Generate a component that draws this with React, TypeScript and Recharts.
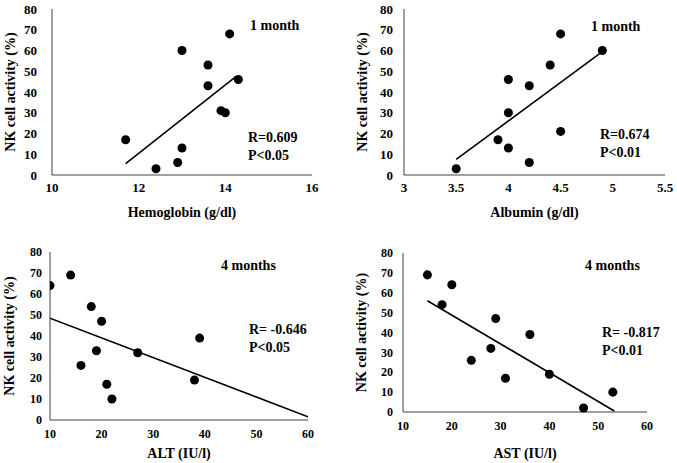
import { ScatterChart, Scatter, XAxis, YAxis } from 'recharts';

// NK cell activity (%) vs. lab values
const hbX = [11.7, 12.4, 12.9, 13.0, 13.0, 13.6, 13.6, 13.9, 14.0, 14.1, 14.3];
const hbY = [17, 3, 6, 13, 60, 53, 43, 31, 30, 68, 46];
const hbTrend = [
  { x: 11.7, y: 5.5 },
  { x: 14.25, y: 47.5 },
];

const albX = [3.5, 3.9, 4.0, 4.0, 4.0, 4.2, 4.2, 4.4, 4.5, 4.5, 4.9];
const albY = [3, 17, 13, 30, 46, 43, 6, 53, 68, 21, 60];
const albTrend = [
  { x: 3.5, y: 7.5 },
  { x: 4.9, y: 59.5 },
];

const altX = [10, 14, 18, 20, 19, 16, 21, 22, 27, 38, 39];
const altY = [64, 69, 54, 47, 33, 26, 17, 10, 32, 19, 39];
const altTrend = [
  { x: 10, y: 48.5 },
  { x: 60, y: 1.5 },
];

const astX = [15, 18, 20, 24, 28, 29, 31, 36, 40, 47, 53];
const astY = [69, 54, 64, 26, 32, 47, 17, 39, 19, 2, 10];
const astTrend = [
  { x: 15, y: 56 },
  { x: 53.3, y: 0.5 },
];

const yTicks = [0, 10, 20, 30, 40, 50, 60, 70, 80];
const hbTicks = [10, 12, 14, 16];
const albTicks = [3, 3.5, 4, 4.5, 5, 5.5];
const enzTicks = [10, 20, 30, 40, 50, 60];

const toPoints = (xs: number[], ys: number[]) => xs.map((x, i) => ({ x, y: ys[i] }));

const FONT = '"Liberation Serif", "Times New Roman", serif';
const AXIS = '#404040';

type PanelProps = {
  left: number;
  top: number;
  width: number;
  height: number;
  margin: { top: number; right: number };
  yWidth: number;
  yTickMargin: number;
  yLabelOffset: number;
  xHeight: number;
  xTickMargin: number;
  xLabelOffset: number;
  tickSize: number;
  xDomain: [number, number];
  xTicks: number[];
  xLabel: string;
  points: { x: number; y: number }[];
  trend: { x: number; y: number }[];
};

function Panel(p: PanelProps) {
  const textStyle = { fontFamily: FONT, fontWeight: 700, fill: '#000' };

  const xTick = (props: any) => (
    <text x={props.x} y={props.y} dy="0.71em" textAnchor="middle" fontSize={p.tickSize} style={textStyle}>
      {props.payload.value}
    </text>
  );
  const yTick = (props: any) => (
    <text x={props.x} y={props.y} dy="0.35em" textAnchor="end" fontSize={p.tickSize} style={textStyle}>
      {props.payload.value}
    </text>
  );
  const xTitle = (props: any) => {
    const vb = props.viewBox;
    return (
      <text x={vb.x + vb.width / 2} y={vb.y + vb.height - p.xLabelOffset} textAnchor="middle" fontSize={14} style={textStyle}>
        {p.xLabel}
      </text>
    );
  };
  const yTitle = (props: any) => {
    const vb = props.viewBox;
    const cx = vb.x + p.yLabelOffset;
    const cy = vb.y + vb.height / 2;
    return (
      <text
        x={cx}
        y={cy}
        dy="0.35em"
        textAnchor="middle"
        fontSize={14}
        transform={`rotate(-90, ${cx}, ${cy})`}
        style={textStyle}
      >
        NK cell activity (%)
      </text>
    );
  };

  return (
    <div style={{ position: 'absolute', left: p.left, top: p.top }}>
      <ScatterChart
        width={p.width}
        height={p.height}
        margin={{ top: p.margin.top, right: p.margin.right, bottom: 0, left: 0 }}
      >
        <XAxis
          type="number"
          dataKey="x"
          domain={p.xDomain}
          ticks={p.xTicks}
          interval={0}
          height={p.xHeight}
          tickLine={false}
          tickMargin={p.xTickMargin}
          axisLine={{ stroke: AXIS }}
          tick={xTick}
          allowDataOverflow
          label={{ content: xTitle }}
        />
        <YAxis
          type="number"
          dataKey="y"
          domain={[0, 80]}
          ticks={yTicks}
          interval={0}
          width={p.yWidth}
          tickLine={false}
          tickMargin={p.yTickMargin}
          axisLine={{ stroke: AXIS }}
          tick={yTick}
          label={{ content: yTitle }}
        />
        <Scatter
          data={p.trend}
          line={{ stroke: '#000', strokeWidth: 1.6 }}
          shape={() => <g />}
          isAnimationActive={false}
        />
        <Scatter data={p.points} fill="#000" isAnimationActive={false} />
      </ScatterChart>
    </div>
  );
}

function Note({ left, cy, lines }: { left: number; cy: number; lines: string[] }) {
  return (
    <div
      style={{
        position: 'absolute',
        left,
        top: cy - 9,
        fontFamily: FONT,
        fontWeight: 700,
        fontSize: 14,
        lineHeight: '18px',
        color: '#000',
        whiteSpace: 'pre',
      }}
    >
      {lines.map((l) => (
        <div key={l}>{l}</div>
      ))}
    </div>
  );
}

export default function App() {
  return (
    <div style={{ position: 'absolute', left: 0, top: 0, width: 677, height: 463, background: '#fff' }}>
      <Panel
        left={0}
        top={0}
        width={330}
        height={220}
        margin={{ top: 9, right: 18 }}
        yWidth={52}
        yTickMargin={9}
        yLabelOffset={10}
        xHeight={45}
        xTickMargin={2}
        xLabelOffset={3}
        tickSize={13}
        xDomain={[10, 16]}
        xTicks={hbTicks}
        xLabel="Hemoglobin (g/dl)"
        points={toPoints(hbX, hbY)}
        trend={hbTrend}
      />
      <Panel
        left={340}
        top={0}
        width={337}
        height={220}
        margin={{ top: 9, right: 12 }}
        yWidth={64}
        yTickMargin={5}
        yLabelOffset={22}
        xHeight={45}
        xTickMargin={2}
        xLabelOffset={3}
        tickSize={13}
        xDomain={[3, 5.5]}
        xTicks={albTicks}
        xLabel="Albumin (g/dl)"
        points={toPoints(albX, albY)}
        trend={albTrend}
      />
      <Panel
        left={0}
        top={225}
        width={330}
        height={238}
        margin={{ top: 27, right: 22 }}
        yWidth={50}
        yTickMargin={2}
        yLabelOffset={9}
        xHeight={43}
        xTickMargin={3}
        xLabelOffset={5}
        tickSize={12}
        xDomain={[10, 60]}
        xTicks={enzTicks}
        xLabel="ALT (IU/l)"
        points={toPoints(altX, altY)}
        trend={altTrend}
      />
      <Panel
        left={340}
        top={225}
        width={337}
        height={238}
        margin={{ top: 28, right: 30 }}
        yWidth={63}
        yTickMargin={4}
        yLabelOffset={21}
        xHeight={51}
        xTickMargin={3}
        xLabelOffset={5}
        tickSize={12}
        xDomain={[10, 60]}
        xTicks={enzTicks}
        xLabel="AST (IU/l)"
        points={toPoints(astX, astY)}
        trend={astTrend}
      />
      <Note left={250} cy={26} lines={['1 month']} />
      <Note left={248} cy={138} lines={['R=0.609', 'P<0.05']} />
      <Note left={591} cy={27} lines={['1 month']} />
      <Note left={600} cy={135} lines={['R=0.674', 'P<0.01']} />
      <Note left={221} cy={266} lines={['4 months']} />
      <Note left={249} cy={330} lines={['R= -0.646', 'P<0.05']} />
      <Note left={585} cy={266} lines={['4 months']} />
      <Note left={602} cy={333} lines={['R= -0.817', 'P<0.01']} />
    </div>
  );
}
